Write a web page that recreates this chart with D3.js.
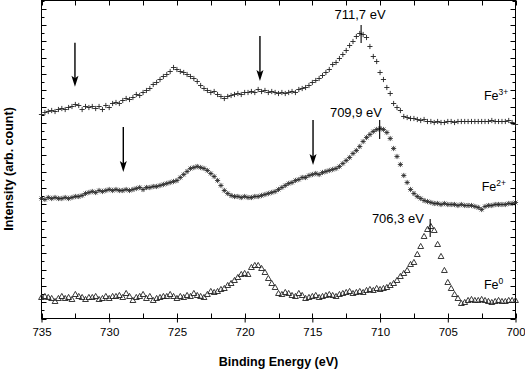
<!DOCTYPE html>
<html><head><meta charset="utf-8">
<script src="https://cdn.jsdelivr.net/npm/d3@7"></script>
<style>html,body{margin:0;padding:0;background:#fff}svg{display:block}text{font-family:"Liberation Sans",Arial,Helvetica,sans-serif}</style>
</head><body>
<svg id="c" width="525" height="370"></svg>
<script>
// ---- data ----
const energyStart = 735, energyStep = 0.25, nPoints = 141;
const xTickLabels = [735, 730, 725, 720, 715, 710, 705, 700];
const fe3 = [204,206,207,208,207,209,210,209,211,212,214,213,209,212,211,212,210,212,209,213,
 211,215,216,215,218,220,219,221,224,223,226,228,230,234,236,239,242,244,247,251,
 249,247,246,244,242,240,237,233,230,228,226,227,224,222,220,222,223,224,225,224,
 226,226,227,226,229,227,228,226,227,226,225,226,225,226,227,226,229,230,231,233,
 236,238,240,243,246,249,254,256,260,264,268,273,277,282,285,284,281,272,262,257,
 246,239,231,225,215,211,208,202,201,200,200,199,198,199,197,197,196,197,196,196,
 197,197,196,197,197,197,197,197,197,197,197,197,197,198,197,197,197,197,198,196,194];
const fe2 = [120,119,121,120,121,120,120,121,120,121,122,122,123,125,126,127,126,128,127,128,
 129,128,129,128,128,129,128,129,130,131,129,131,131,132,132,133,134,135,136,137,
 138,141,144,147,150,151,152,151,150,148,145,142,138,133,128,125,123,122,122,121,
 122,121,121,122,122,123,124,125,126,127,129,131,133,135,136,138,139,141,141,143,
 144,145,144,146,147,148,149,150,152,155,158,161,165,168,172,177,181,184,187,189,
 190,189,186,180,170,162,154,143,136,129,125,122,120,118,117,116,115,115,114,115,
 114,114,114,113,114,113,113,113,112,111,109,112,113,113,114,114,114,114,115,115,116];
const fe0 = [21,22,21,20,17,20,22,20,21,19,24,22,21,19,21,21,22,19,20,22,
 20,22,22,23,21,25,22,18,21,22,24,20,22,18,20,21,22,22,24,22,
 20,22,21,23,22,25,23,22,21,24,27,26,27,29,30,33,35,38,41,44,
 45,44,51,53,53,50,46,40,35,31,25,24,26,25,23,22,25,23,20,21,
 22,23,21,22,23,24,23,22,24,25,26,27,25,26,27,26,28,29,28,30,
 29,30,31,33,35,38,42,45,48,54,56,64,72,82,89,92,88,74,62,48,
 36,30,24,20,15,16,18,19,18,18,19,18,17,16,17,18,17,17,18,18,18];
const seriesNames = ["Fe3+", "Fe2+", "Fe0"];
// annotations in data coordinates (energy, intensity)
const peakText = ["711,7 eV", "709,9 eV", "706,3 eV"];
const peakMarkE = [711.4, 710.03, 706.3];
const peakMarkLo = [275.5, 179.5, 81.5];
const peakMarkHi = [293.5, 198.5, 99.5];
const peakTextE = [711.48, 709.86, 706.76];
const peakTextI = [299.5, 201.5, 95.5];
const peakAnchor = ["middle", "end", "end"];
const arrowE = [732.53, 718.87, 728.96, 714.95];
const arrowTop = [275.8, 282.5, 191.5, 198.5];
const arrowTip = [231.8, 237.5, 146.5, 153.5];
const labelBase = ["Fe", "Fe", "Fe"];
const labelSup = ["3+", "2+", "0"];
const labelE = [702.33, 702.5, 702.33];
const labelI = [218.5, 127.5, 29.5];

// ---- chart ----
const svg = d3.select("#c");
const L = 41.5, R = 515.5, T = 0.5, B = 318.5;
const x = d3.scaleLinear().domain([735, 700]).range([L, R]);
const y = d3.scaleLinear().domain([0, 318]).range([B, T]);
const energies = d3.range(nPoints).map(i => energyStart - i * energyStep);
const ink = "#222";

// frame
svg.append("rect").attr("x", L).attr("y", T).attr("width", R - L).attr("height", B - T)
  .attr("fill", "none").attr("stroke", "#000").attr("stroke-width", 1);

// x ticks (inside, top and bottom)
const xMinor = d3.range(735, 699.9, -2.5);
const gt = svg.append("g").attr("stroke", "#000").attr("stroke-width", 1);
xMinor.forEach(v => {
  const px = Math.round(x(v)) + 0.5;
  gt.append("line").attr("x1", px).attr("x2", px).attr("y1", B).attr("y2", B - 5);
  gt.append("line").attr("x1", px).attr("x2", px).attr("y1", T).attr("y2", T + 5);
});
// bottom axis labels through d3 axis
const xAxis = d3.axisBottom(x).tickValues(xTickLabels).tickSize(4).tickFormat(d3.format("d"));
const gx = svg.append("g").attr("transform", `translate(0,${B})`).call(xAxis);
gx.select(".domain").remove();
gx.selectAll("line").attr("stroke", "#000");
gx.selectAll("text").attr("font-size", "11.5px").attr("fill", "#000").attr("dy", "0.9em")
  .attr("font-family", '"Liberation Sans",Arial,sans-serif');

// y ticks (inside, left and right, no labels)
const yTicks = d3.range(0, 40).map(k => k * 318 / 39);
yTicks.forEach((v, k) => {
  const py = Math.round(y(v)) + 0.5;
  const len = k % 2 === 0 ? 5 : 3;
  gt.append("line").attr("x1", L).attr("x2", L + len).attr("y1", py).attr("y2", py);
  gt.append("line").attr("x1", R).attr("x2", R - len).attr("y1", py).attr("y2", py);
});

// axis titles
svg.append("text").attr("x", (L + R) / 2).attr("y", 366).attr("text-anchor", "middle")
  .attr("font-size", "12.5px").attr("font-weight", "bold").text("Binding Energy (eV)");
svg.append("text").attr("transform", "translate(13,169) rotate(-90)").attr("text-anchor", "middle")
  .attr("font-size", "12.5px").attr("font-weight", "bold").text("Intensity (arb. count)");

// markers
const data = [fe3, fe2, fe0];
const shapes = [
  "M-2.6,0H2.6M0,-2.6V2.6",
  "M-2.6,0H2.6M0,-2.6V2.6M-1.9,-1.9L1.9,1.9M-1.9,1.9L1.9,-1.9",
  "M0,-3.1L2.9,2L-2.9,2Z"
];
data.forEach((vals, s) => {
  const g = svg.append("g").attr("class", "series").attr("data-name", seriesNames[s]);
  g.selectAll("path").data(vals).join("path")
    .attr("transform", (d, i) => `translate(${x(energies[i])},${y(d)})`)
    .attr("d", shapes[s])
    .attr("fill", "none")
    .attr("stroke", ink)
    .attr("stroke-width", s === 1 ? 0.8 : 0.9);
});

// peak markers and labels
peakText.forEach((t, k) => {
  svg.append("line").attr("x1", x(peakMarkE[k])).attr("x2", x(peakMarkE[k]))
    .attr("y1", y(peakMarkLo[k])).attr("y2", y(peakMarkHi[k])).attr("stroke", "#000").attr("stroke-width", 1.1);
  svg.append("text").attr("x", x(peakTextE[k])).attr("y", y(peakTextI[k]))
    .attr("text-anchor", peakAnchor[k]).attr("font-size", "13px").attr("fill", "#000").text(t);
});

// arrows
arrowE.forEach((e, k) => {
  const ax = x(e), y0 = y(arrowTop[k]), y1 = y(arrowTip[k]);
  svg.append("line").attr("x1", ax).attr("x2", ax).attr("y1", y0).attr("y2", y1 - 6)
    .attr("stroke", "#000").attr("stroke-width", 1.4);
  svg.append("path").attr("d", `M${ax},${y1}L${ax - 3.5},${y1 - 11}L${ax},${y1 - 8.5}L${ax + 3.5},${y1 - 11}Z`)
    .attr("fill", "#000");
});

// series labels with superscripts
labelBase.forEach((b, k) => {
  const t = svg.append("text").attr("x", x(labelE[k])).attr("y", y(labelI[k]))
    .attr("font-size", "12.5px").attr("fill", "#000");
  t.append("tspan").text(b);
  t.append("tspan").attr("font-size", "8.5px").attr("dy", "-5").text(labelSup[k]);
});
</script>
</body></html>
